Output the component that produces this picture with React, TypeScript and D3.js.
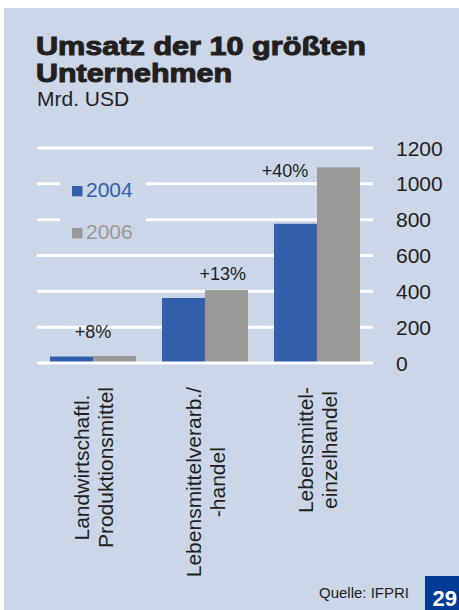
import React, { useEffect, useRef } from "react";
import * as d3 from "d3";

const categories = [
  ["Landwirtschaftl.", "Produktionsmittel"],
  ["Lebensmittelverarb./", "-handel"],
  ["Lebensmittel-", "einzelhandel"],
];
const series2004 = [36, 363, 777];
const series2006 = [39, 407, 1092];
const seriesNames = ["2004", "2006"];
const growthLabels = ["+8%", "+13%", "+40%"];
const yTicks = [0, 200, 400, 600, 800, 1000, 1200];
const titleLines = ["Umsatz der 10 größten", "Unternehmen"];

// annotation anchors (value units) and x shift as fraction of group width
const growthAnchor = [140, 463, 1038];
const growthShift = [0, 0.206, -0.372];

const W = 459;
const H = 610;
const BG = "#cbd6e8";
const BLUE = "#325fab";
const GRAY = "#9a9998";
const TEXT = "#231f20";
const FONT = "'Liberation Sans', Arial, Helvetica, sans-serif";

export default function App() {
  const ref = useRef<SVGSVGElement | null>(null);

  useEffect(() => {
    const svg = d3.select(ref.current);
    svg.selectAll("*").remove();

    svg
      .append("rect")
      .attr("x", 4)
      .attr("y", 8)
      .attr("width", W - 4)
      .attr("height", H - 8)
      .attr("fill", BG);

    // title (one text, two lines)
    const tt = svg
      .append("text")
      .attr("font-family", FONT)
      .attr("fill", TEXT)
      .attr("font-size", 25)
      .attr("font-weight", 700)
      .attr("stroke", TEXT)
      .attr("stroke-width", 1);
    tt.append("tspan")
      .attr("x", 36)
      .attr("y", 55)
      .attr("textLength", 330)
      .attr("lengthAdjust", "spacingAndGlyphs")
      .text(titleLines[0]);
    tt.append("tspan")
      .attr("x", 36)
      .attr("y", 81.5)
      .attr("textLength", 196)
      .attr("lengthAdjust", "spacingAndGlyphs")
      .text(titleLines[1]);

    svg
      .append("text")
      .attr("x", 37)
      .attr("y", 106)
      .attr("font-family", FONT)
      .attr("font-size", 21)
      .attr("fill", TEXT)
      .text("Mrd. USD");

    const x0 = d3
      .scaleBand<number>()
      .domain(d3.range(categories.length))
      .range([37, 373])
      .paddingInner(0.232)
      .paddingOuter(0.116);
    const x1 = d3.scaleBand<string>().domain(seriesNames).range([0, x0.bandwidth()]);
    const y = d3.scaleLinear().domain([0, 1200]).range([363, 148]);

    // gridlines
    svg
      .append("g")
      .selectAll("line")
      .data(yTicks.filter((t) => t !== 0))
      .join("line")
      .attr("x1", 37)
      .attr("x2", 373)
      .attr("y1", (d) => y(d))
      .attr("y2", (d) => y(d))
      .attr("stroke", "#ffffff")
      .attr("stroke-width", 3);

    // tick labels
    svg
      .append("g")
      .selectAll("text")
      .data(yTicks)
      .join("text")
      .attr("x", 396)
      .attr("y", (d) => y(d))
      .attr("dy", "0.36em")
      .attr("font-family", FONT)
      .attr("font-size", 21)
      .attr("fill", TEXT)
      .text((d) => String(d));

    // legend (masks gridlines)
    const lg = svg.append("g");
    lg.append("rect").attr("x", 60).attr("y", 172).attr("width", 86).attr("height", 72).attr("fill", BG);
    const colors = [BLUE, GRAY];
    seriesNames.forEach((name, i) => {
      const by = 197.3 + i * 42;
      lg.append("rect")
        .attr("x", 72)
        .attr("y", by - 11.3)
        .attr("width", 10.5)
        .attr("height", 10.3)
        .attr("fill", colors[i]);
      lg.append("text")
        .attr("x", 86)
        .attr("y", by)
        .attr("font-family", FONT)
        .attr("font-size", 21)
        .attr("fill", colors[i])
        .text(name);
    });

    // bars
    const groups = svg
      .append("g")
      .selectAll("g")
      .data(categories.map((_, i) => i))
      .join("g")
      .attr("transform", (i) => `translate(${x0(i)},0)`);
    const valuesBySeries = [series2004, series2006];
    groups
      .selectAll("rect")
      .data((i) => seriesNames.map((s, k) => ({ s, v: valuesBySeries[k][i], c: colors[k] })))
      .join("rect")
      .attr("x", (d) => x1(d.s)!)
      .attr("width", x1.bandwidth())
      .attr("y", (d) => y(d.v))
      .attr("height", (d) => y(0) - y(d.v))
      .attr("fill", (d) => d.c);

    // zero line
    svg
      .append("line")
      .attr("x1", 37)
      .attr("x2", 373)
      .attr("y1", y(0))
      .attr("y2", y(0))
      .attr("stroke", "#ffffff")
      .attr("stroke-width", 3);

    // growth labels
    svg
      .append("g")
      .selectAll("text")
      .data(growthLabels)
      .join("text")
      .attr("x", (_, i) => x0(i)! + x0.bandwidth() / 2 + growthShift[i] * x0.bandwidth())
      .attr("y", (_, i) => y(growthAnchor[i]))
      .attr("text-anchor", "middle")
      .attr("font-family", FONT)
      .attr("font-size", 18)
      .attr("fill", TEXT)
      .text((d) => d);

    // category labels (rotated)
    const cat = svg.append("g").attr("font-family", FONT).attr("font-size", 21).attr("fill", TEXT);
    categories.forEach((lines, i) => {
      const cx = x0(i)! + x0.bandwidth() / 2;
      const g = cat.append("g").attr("transform", `translate(${cx},0) rotate(-90)`);
      const texts = lines.map((ln, k) =>
        g
          .append("text")
          .attr("y", k === 0 ? -3.7 : 20.3)
          .attr("text-anchor", "middle")
          .text(ln)
      );
      const maxW = d3.max(texts, (t) => (t.node() as SVGTextElement).getComputedTextLength()) || 0;
      const centerY = 387 + maxW / 2;
      texts.forEach((t) => t.attr("x", -centerY));
    });

    // footer
    svg
      .append("text")
      .attr("x", 319)
      .attr("y", 598.3)
      .attr("font-family", FONT)
      .attr("font-size", 15)
      .attr("fill", TEXT)
      .text("Quelle: IFPRI");
    svg.append("rect").attr("x", 425).attr("y", 576).attr("width", 34).attr("height", 34).attr("fill", "#003a94");
    svg
      .append("text")
      .attr("x", 432.5)
      .attr("y", 605.7)
      .attr("font-family", FONT)
      .attr("font-size", 22)
      .attr("font-weight", 700)
      .attr("fill", "#ffffff")
      .text("29");
  }, []);

  return (
    <svg
      ref={ref}
      width={W}
      height={H}
      style={{ position: "absolute", left: 0, top: 0, display: "block" }}
    />
  );
}
